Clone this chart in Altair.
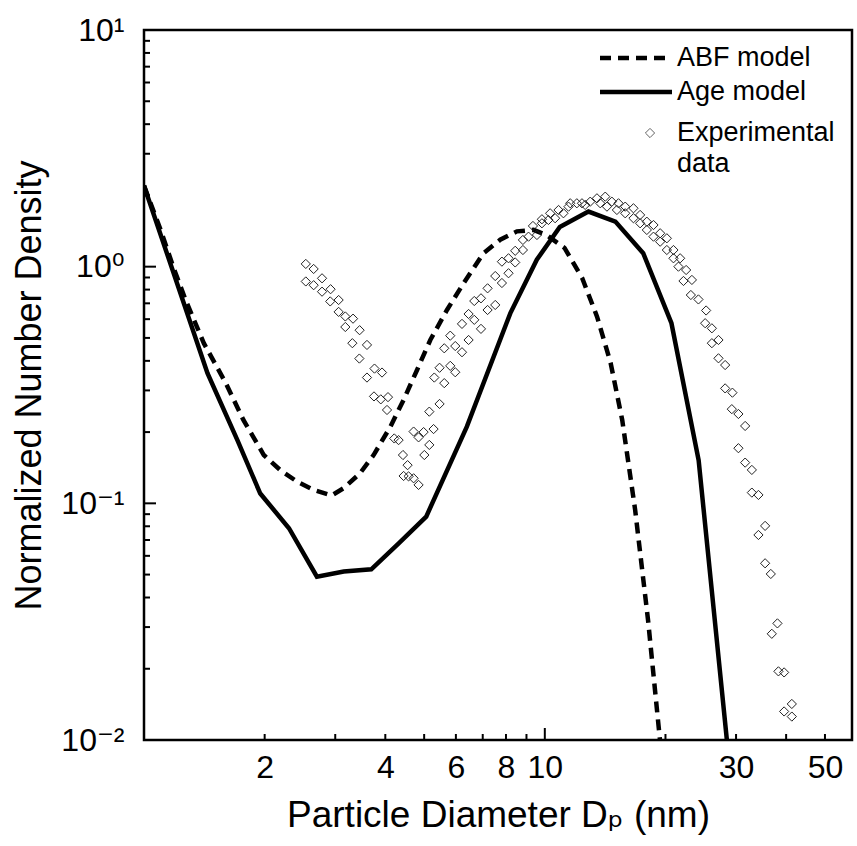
import altair as alt
import pandas as pd

# ---------------- data ----------------
abf_x = [1.0, 1.10, 1.19, 1.27, 1.41, 1.60, 1.77, 1.99, 2.19, 2.41, 2.65, 2.94, 3.15, 3.46, 3.74,
         4.12, 4.44, 4.80, 5.18, 5.70, 6.27, 7.03, 7.74, 8.52, 9.37, 10.1, 11.2, 12.4, 13.5, 14.6,
         15.6, 16.8, 18.1, 19.4, 19.9]
abf_y = [2.2, 1.43, 0.97, 0.723, 0.475, 0.322, 0.225, 0.160, 0.138, 0.1235, 0.114, 0.108, 0.116,
         0.134, 0.160, 0.211, 0.273, 0.366, 0.490, 0.656, 0.851, 1.14, 1.30, 1.41, 1.43, 1.36,
         1.20, 0.893, 0.615, 0.391, 0.225, 0.094, 0.032, 0.0098, 0.0062]

age_x = [1.0, 1.44, 1.71, 1.95, 2.30, 2.70, 3.15, 3.69, 4.32, 5.06, 6.39, 8.20, 9.55, 10.9,
         12.85, 15.0, 17.6, 20.7, 24.2, 29.0]
age_y = [2.2, 0.355, 0.185, 0.110, 0.0785, 0.049, 0.0515, 0.0526, 0.0678, 0.0879, 0.211, 0.635,
         1.07, 1.47, 1.71, 1.55, 1.14, 0.577, 0.152, 0.0073]

exp_x = [2.533, 2.650, 2.781, 2.533, 2.650, 2.781, 2.921, 3.059, 2.915, 3.059, 3.179, 3.323, 3.179,
         3.451, 3.310, 3.600, 3.446, 3.759, 3.925, 3.600, 3.748, 3.897, 4.062, 4.039, 4.211, 4.317,
         4.427, 4.546, 4.443, 4.572, 4.706, 4.842,
         4.706, 4.984, 5.278, 4.842, 5.150, 5.005, 5.150, 5.463, 5.300, 5.612, 5.463, 5.809, 5.978,
         5.612, 5.809, 5.978, 6.214, 6.454, 6.214, 6.454, 6.668, 6.930, 6.668, 6.930, 7.198, 7.198,
         7.522, 7.522, 7.816, 8.118, 7.816, 8.118, 8.436, 8.436, 8.818, 8.818, 9.107, 9.557, 9.340,
         9.835, 10.21, 9.835, 10.31, 10.61, 10.82, 11.13, 11.46, 11.57, 12.02, 12.38, 12.61, 12.98,
         13.49, 14.15, 13.75, 14.29, 14.70, 15.27, 15.13, 15.87, 15.87, 16.64, 16.64, 17.29, 17.29,
         17.97, 17.97, 18.67, 18.67, 19.40, 19.40, 20.16, 20.16, 20.94, 20.94, 21.76, 21.55, 22.52,
         22.18, 23.28, 23.14, 24.17, 25.26, 25.12, 26.11, 26.11, 27.12, 27.12, 28.18, 28.18, 29.38,
         29.28, 30.41, 31.61, 30.41, 31.61, 32.85, 32.85, 34.12, 35.45, 34.12, 35.45, 36.63, 38.05,
         36.84, 38.27, 39.54, 41.33, 39.54, 41.33]
exp_y = [1.027, 0.978, 0.893, 0.866, 0.835, 0.784, 0.803, 0.723, 0.713, 0.644, 0.616, 0.603, 0.556,
         0.539, 0.475, 0.467, 0.409, 0.371, 0.357, 0.340, 0.283, 0.275, 0.281, 0.248, 0.188, 0.185,
         0.160, 0.145, 0.1305, 0.130, 0.1276, 0.1196,
         0.201, 0.200, 0.206, 0.190, 0.1765, 0.160, 0.244, 0.263, 0.340, 0.322, 0.374, 0.381, 0.358,
         0.452, 0.511, 0.462, 0.435, 0.490, 0.573, 0.631, 0.596, 0.546, 0.716, 0.735, 0.810, 0.656,
         0.689, 0.913, 0.853, 0.938, 1.050, 1.085, 1.042, 1.167, 1.176, 1.297, 1.339, 1.361, 1.486,
         1.525, 1.575, 1.586, 1.681, 1.602, 1.736, 1.681, 1.793, 1.853, 1.853, 1.853, 1.823, 1.882,
         1.945, 1.976, 1.853, 1.793, 1.882, 1.853, 1.736, 1.793, 1.681, 1.765, 1.602, 1.654, 1.525,
         1.549, 1.429, 1.500, 1.339, 1.384, 1.275, 1.318, 1.176, 1.176, 1.085, 1.085, 1.000, 0.968,
         0.870, 0.879, 0.759, 0.727, 0.653, 0.577, 0.549, 0.475, 0.490, 0.410, 0.384, 0.306, 0.2935,
         0.250, 0.2385, 0.2123, 0.171, 0.1486, 0.1384, 0.1110, 0.1085, 0.0803, 0.0735, 0.0558, 0.0503,
         0.0311, 0.0281, 0.0195, 0.0193, 0.0142, 0.0132, 0.01256]

x_label_values = [2, 4, 6, 8, 10, 30, 50]
x_minor_ticks = [2, 3, 4, 5, 6, 7, 8, 9, 20, 30, 40, 50]
x_major_ticks = [10]
y_label_values = [0.01, 0.1, 1, 10]
y_minor_ticks = [0.02, 0.03, 0.04, 0.05, 0.06, 0.07, 0.08, 0.09,
                 0.2, 0.3, 0.4, 0.5, 0.6, 0.7, 0.8, 0.9,
                 2, 3, 4, 5, 6, 7, 8, 9]
y_major_ticks = [0.1, 1]

legend_labels = ["ABF model", "Age model", "Experimental", "data"]

# ---------------- chart ----------------
W, H = 708, 710
FONT = "Liberation Sans, Arial, DejaVu Sans, sans-serif"

abf_df = pd.DataFrame({"d": abf_x, "n": abf_y, "i": range(len(abf_x))})
age_df = pd.DataFrame({"d": age_x, "n": age_y, "i": range(len(age_x))})
exp_df = pd.DataFrame({"d": exp_x, "n": exp_y})

xscale = alt.Scale(type="log", domain=[1, 58.4], nice=False)
yscale = alt.Scale(type="log", domain=[0.01, 10], nice=False)

ylabel_expr = ("datum.value >= 5 ? '10\u00b9' : datum.value >= 0.5 ? '10\u2070' : "
               "datum.value >= 0.05 ? '10\u207b\u00b9' : '10\u207b\u00b2'")

x_main_axis = alt.Axis(values=x_label_values, format="d", orient="bottom",
                       labelFont=FONT, labelFontSize=32, labelColor="black", labelPadding=12,
                       labelOverlap=False, labelFlush=False,
                       ticks=False, domain=False, grid=False,
                       title="Particle Diameter D\u209a (nm)", titleFont=FONT, titleFontSize=37,
                       titleFontWeight="normal", titleColor="black", titlePadding=14)
y_main_axis = alt.Axis(values=y_label_values, labelExpr=ylabel_expr, orient="left",
                       labelFont=FONT, labelFontSize=32, labelColor="black", labelPadding=20,
                       labelOverlap=False, labelFlush=False,
                       ticks=False, domain=False, grid=False,
                       title="Normalized Number Density", titleFont=FONT, titleFontSize=36,
                       titleFontWeight="normal", titleColor="black", titlePadding=12)

abf_line = alt.Chart(abf_df).mark_line(color="black", strokeWidth=4.5, strokeDash=[11, 7],
                                       clip=True).encode(
    x=alt.X("d:Q", scale=xscale, axis=x_main_axis),
    y=alt.Y("n:Q", scale=yscale, axis=y_main_axis),
    order="i:Q",
)

age_line = alt.Chart(age_df).mark_line(color="black", strokeWidth=4.5, clip=True).encode(
    x=alt.X("d:Q", scale=xscale),
    y=alt.Y("n:Q", scale=yscale),
    order="i:Q",
)

exp_pts = alt.Chart(exp_df).mark_point(shape="diamond", size=85, filled=False, color="#222222",
                                       strokeWidth=1, opacity=1, clip=True).encode(
    x=alt.X("d:Q", scale=xscale),
    y=alt.Y("n:Q", scale=yscale),
)

# ---- inward ticks (drawn from tick values through the shared scales) ----
def xticks(vals, size):
    return alt.Chart(pd.DataFrame({"d": vals})).mark_rule(color="black", strokeWidth=2).encode(
        x=alt.X("d:Q", scale=xscale), y=alt.value(H), y2=alt.value(H - size))


def yticks(vals, size):
    return alt.Chart(pd.DataFrame({"n": vals})).mark_rule(color="black", strokeWidth=2).encode(
        y=alt.Y("n:Q", scale=yscale), x=alt.value(0), x2=alt.value(size))


# ---- manual legend (top right) ----
one = pd.DataFrame({"k": [0]})
leg_dash = alt.Chart(one).mark_rule(color="black", strokeWidth=4.5, strokeDash=[11, 7]).encode(
    x=alt.value(456), x2=alt.value(528), y=alt.value(28))
leg_solid = alt.Chart(one).mark_rule(color="black", strokeWidth=4.5).encode(
    x=alt.value(456), x2=alt.value(528), y=alt.value(62))
leg_diamond = alt.Chart(one).mark_point(shape="diamond", size=85, filled=False, color="#222222",
                                        strokeWidth=1).encode(
    x=alt.value(506), y=alt.value(103))

leg_texts = []
for lab, yy in zip(legend_labels, [28, 62, 103, 134]):
    leg_texts.append(
        alt.Chart(one).mark_text(align="left", baseline="middle", font=FONT, fontSize=27,
                                 color="black").encode(
            x=alt.value(533), y=alt.value(yy), text=alt.value(lab)))

chart = alt.layer(
    abf_line, age_line, exp_pts,
    xticks(x_minor_ticks, 6), xticks(x_major_ticks, 12),
    yticks(y_minor_ticks, 6), yticks(y_major_ticks, 12),
    leg_dash, leg_solid, leg_diamond, *leg_texts
).properties(
    width=W, height=H,
    autosize=alt.AutoSizeParams(type="none"),
    padding={"left": 144, "top": 30, "right": 5, "bottom": 106},
    background="white",
).configure_view(stroke="black", strokeWidth=2.5)

chart.save("out.html", embed_options={"renderer": "svg", "actions": False})
